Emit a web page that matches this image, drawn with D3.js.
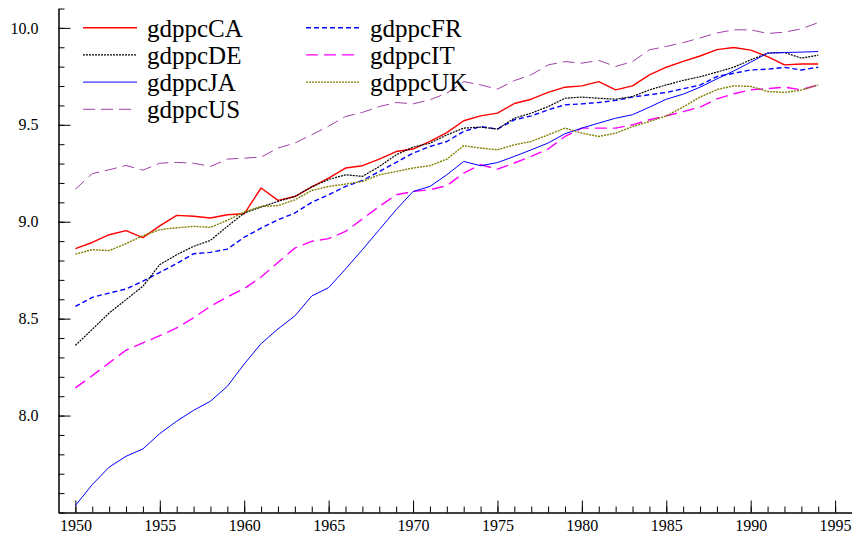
<!DOCTYPE html>
<html>
<head>
<meta charset="utf-8">
<script src="https://cdn.jsdelivr.net/npm/d3@7/dist/d3.min.js"></script>
<style>
  body { margin: 0; background: #fff; }
  svg { display: block; }
  .axis text { font-family: "Liberation Serif", "Times New Roman", serif; font-size: 16px; fill: #000; }
  .axis path, .axis line { stroke: #000; stroke-width: 1; }
  .legend text { font-family: "Liberation Serif", "Times New Roman", serif; font-size: 25px; fill: #000; }
</style>
</head>
<body>
<div id="chart"></div>
<script>

// Years on the x-axis
var years = d3.range(1950, 1995);

// log GDP per capita (1950..1994)
var gdppcCA = [8.861, 8.893, 8.933, 8.954, 8.918, 8.979, 9.033, 9.028, 9.019, 9.036,
               9.041, 9.174, 9.110, 9.130, 9.180, 9.225, 9.277, 9.289, 9.323, 9.362,
               9.375, 9.414, 9.460, 9.521, 9.546, 9.560, 9.610, 9.632, 9.667, 9.694,
               9.701, 9.723, 9.680, 9.701, 9.758, 9.797, 9.827, 9.855, 9.888, 9.899,
               9.885, 9.852, 9.809, 9.814, 9.814];
var gdppcDE = [8.362, 8.445, 8.529, 8.598, 8.667, 8.779, 8.830, 8.873, 8.904, 8.976,
               9.045, 9.076, 9.105, 9.130, 9.180, 9.218, 9.242, 9.234, 9.285, 9.345,
               9.385, 9.405, 9.448, 9.483, 9.488, 9.478, 9.534, 9.560, 9.594, 9.637,
               9.643, 9.637, 9.632, 9.646, 9.680, 9.706, 9.729, 9.748, 9.772, 9.797,
               9.835, 9.870, 9.873, 9.844, 9.859];
var gdppcJA = [7.536, 7.644, 7.734, 7.790, 7.828, 7.907, 7.971, 8.027, 8.074, 8.151,
               8.266, 8.371, 8.447, 8.514, 8.617, 8.660, 8.756, 8.856, 8.959, 9.062,
               9.156, 9.182, 9.242, 9.311, 9.289, 9.305, 9.337, 9.371, 9.406, 9.454,
               9.483, 9.509, 9.534, 9.552, 9.591, 9.632, 9.658, 9.694, 9.737, 9.778,
               9.823, 9.870, 9.873, 9.875, 9.878];
var gdppcUS = [9.168, 9.248, 9.268, 9.290, 9.266, 9.302, 9.306, 9.302, 9.285, 9.323,
               9.328, 9.333, 9.380, 9.406, 9.449, 9.493, 9.543, 9.564, 9.594, 9.615,
               9.608, 9.629, 9.663, 9.723, 9.706, 9.684, 9.728, 9.758, 9.809, 9.826,
               9.818, 9.832, 9.801, 9.826, 9.887, 9.904, 9.924, 9.948, 9.974, 9.990,
               9.990, 9.971, 9.978, 9.995, 10.027];
var gdppcFR = [8.563, 8.610, 8.632, 8.653, 8.693, 8.739, 8.784, 8.835, 8.842, 8.859,
               8.920, 8.967, 9.010, 9.045, 9.100, 9.139, 9.182, 9.213, 9.259, 9.306,
               9.354, 9.388, 9.414, 9.466, 9.491, 9.478, 9.526, 9.546, 9.577, 9.603,
               9.608, 9.615, 9.626, 9.643, 9.655, 9.667, 9.686, 9.705, 9.749, 9.766,
               9.783, 9.787, 9.796, 9.783, 9.797];
var gdppcIT = [8.143, 8.206, 8.272, 8.337, 8.375, 8.412, 8.452, 8.504, 8.564, 8.612,
               8.655, 8.715, 8.790, 8.864, 8.899, 8.913, 8.950, 9.014, 9.079, 9.139,
               9.156, 9.165, 9.186, 9.251, 9.294, 9.271, 9.303, 9.337, 9.375, 9.440,
               9.483, 9.483, 9.483, 9.500, 9.526, 9.546, 9.568, 9.591, 9.634, 9.660,
               9.681, 9.687, 9.694, 9.681, 9.706];
var gdppcUK = [8.833, 8.856, 8.851, 8.887, 8.928, 8.959, 8.969, 8.976, 8.971, 9.007,
               9.050, 9.079, 9.083, 9.113, 9.161, 9.182, 9.194, 9.208, 9.242, 9.259,
               9.277, 9.289, 9.323, 9.392, 9.380, 9.371, 9.397, 9.414, 9.448, 9.483,
               9.457, 9.440, 9.457, 9.491, 9.517, 9.546, 9.592, 9.643, 9.682, 9.701,
               9.698, 9.672, 9.667, 9.679, 9.706];

// Axis tick values
var yLabelTicks = [8.0, 8.5, 9.0, 9.5, 10.0];
var xLabelTicks = [1950, 1955, 1960, 1965, 1970, 1975, 1980, 1985, 1990, 1995];

// Series in legend order (two columns, filled row by row)
var series = [
  {name: 'gdppcCA', values: gdppcCA, color: '#ff0000', width: 1.4, dash: null},
  {name: 'gdppcFR', values: gdppcFR, color: '#0000ff', width: 1.4, dash: '5,3'},
  {name: 'gdppcDE', values: gdppcDE, color: '#000000', width: 1.2, dash: '2,1'},
  {name: 'gdppcIT', values: gdppcIT, color: '#ff00ff', width: 1.4, dash: '12,6'},
  {name: 'gdppcJA', values: gdppcJA, color: '#0000ff', width: 1, dash: null},
  {name: 'gdppcUK', values: gdppcUK, color: '#808000', width: 1.4, dash: '2,1'},
  {name: 'gdppcUS', values: gdppcUS, color: '#a040a8', width: 1, dash: '12,6'}
];

var width = 852,
    height = 540;

var svg = d3.select('#chart')
            .append('svg')
            .attr('width', width)
            .attr('height', height);

// Scales
var x = d3.scaleLinear()
          .domain([1949, 1996])
          .range([58.5, 852]);

var y = d3.scaleLinear()
          .domain([7.5, 10.1])
          .range([512.5, 8.5]);

// x-axis: minor ticks every year, major every 5 with labels
svg.append('g')
   .attr('class', 'axis')
   .attr('transform', 'translate(0,' + y(7.5) + ')')
   .call(d3.axisBottom(x)
           .tickValues(d3.range(1950, 1997))
           .tickSizeInner(-6)
           .tickSizeOuter(0)
           .tickFormat(''));

svg.append('g')
   .attr('class', 'axis')
   .attr('transform', 'translate(0,' + y(7.5) + ')')
   .call(d3.axisBottom(x)
           .tickValues(xLabelTicks)
           .tickSizeInner(-12)
           .tickSizeOuter(0)
           .tickPadding(7)
           .tickFormat(d3.format('d')));

// y-axis: minor ticks every 0.1, major every 0.5
svg.append('g')
   .attr('class', 'axis')
   .attr('transform', 'translate(' + x(1949) + ',0)')
   .call(d3.axisLeft(y)
           .tickValues(d3.range(75, 102).map(function(d) { return d / 10; }))
           .tickSizeInner(-6)
           .tickSizeOuter(0)
           .tickFormat(''));

svg.append('g')
   .attr('class', 'axis')
   .attr('transform', 'translate(' + x(1949) + ',0)')
   .call(d3.axisLeft(y)
           .tickValues(yLabelTicks)
           .tickSizeInner(-12)
           .tickSizeOuter(0)
           .tickPadding(20)
           .tickFormat(d3.format('.1f')));

// Lines
var line = d3.line()
             .x(function(d, i) { return x(years[i]); })
             .y(function(d) { return y(d); });

svg.append('g')
   .selectAll('path')
   .data(series)
   .enter()
   .append('path')
   .attr('d', function(s) { return line(s.values); })
   .attr('fill', 'none')
   .attr('stroke', function(s) { return s.color; })
   .attr('stroke-width', function(s) { return s.width; })
   .attr('stroke-dasharray', function(s) { return s.dash; })
   .attr('stroke-linejoin', 'round');

// Legend
var legend = svg.append('g')
                .attr('class', 'legend')
                .selectAll('g')
                .data(series)
                .enter()
                .append('g')
                .attr('transform', function(s, i) {
                  return 'translate(' + (83 + (i % 2) * 223) + ',' + (27.7 + Math.floor(i / 2) * 27.2) + ')';
                });

legend.append('line')
      .attr('x1', 0)
      .attr('x2', 54)
      .attr('stroke', function(s) { return s.color; })
      .attr('stroke-width', function(s) { return s.width; })
      .attr('stroke-dasharray', function(s) { return s.dash; });

legend.append('text')
      .attr('x', 64)
      .attr('y', 9)
      .text(function(s) { return s.name; });

</script>
</body>
</html>
